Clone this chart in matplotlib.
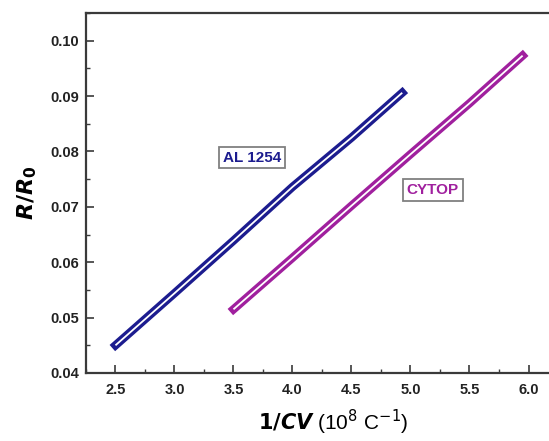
import numpy as np
from matplotlib import pyplot as plt
from matplotlib.ticker import MultipleLocator

plt.rcParams['font.family'] = ['Liberation Sans', 'DejaVu Sans']

# AL 1254 curve
al_x = [2.5, 3.0, 3.5, 4.0, 4.5, 4.93]
al_y = [0.0450, 0.0544, 0.0639, 0.0736, 0.0825, 0.0906]

# CYTOP curve
cy_x = [3.5, 4.0, 4.5, 5.0, 5.5, 5.95]
cy_y = [0.0515, 0.0608, 0.0702, 0.0795, 0.0887, 0.0973]

blue = "#1c1c8f"
purple = "#a0209e"

fig = plt.figure(figsize=(5.49, 4.41), dpi=100)
ax = fig.add_axes([0.1566, 0.1542, 0.8598, 0.8163])

# hollow looking lines: thick coloured stroke, thin white core
for xs, ys, c in [(al_x, al_y, blue), (cy_x, cy_y, purple)]:
    ax.plot(xs, ys, color=c, lw=6, solid_capstyle='projecting', solid_joinstyle='round')
    ax.plot(xs, ys, color="white", lw=1.3, solid_capstyle='butt', solid_joinstyle='round')

box = dict(boxstyle="square,pad=0.25", fc="white", ec="#808080", lw=1.3)
ax.text(3.66, 0.0789, "AL 1254", color=blue, fontsize=11, fontweight='bold',
        ha='center', va='center', bbox=box)
ax.text(5.19, 0.0730, "CYTOP", color=purple, fontsize=11, fontweight='bold',
        ha='center', va='center', bbox=box)

ax.set_xlim(2.25, 6.25)
ax.set_ylim(0.04, 0.105)
ax.xaxis.set_minor_locator(MultipleLocator(0.25))
ax.yaxis.set_minor_locator(MultipleLocator(0.005))
ax.set_xticks(np.arange(2.5, 6.01, 0.5))
ax.set_xticklabels(["%.1f" % v for v in np.arange(2.5, 6.01, 0.5)])
ax.set_yticks(np.arange(0.04, 0.1001, 0.01))
ax.set_yticklabels(["%.2f" % v for v in np.arange(0.04, 0.1001, 0.01)])

for s in ax.spines.values():
    s.set_linewidth(1.6)
    s.set_color("#3a3a3a")

ax.tick_params(which='major', direction='in', length=6, width=1.2, color="#3a3a3a",
               labelsize=10.5)
ax.tick_params(which='minor', direction='in', length=3, width=1.0, color="#3a3a3a")
ax.tick_params(axis='x', pad=7)
ax.tick_params(axis='y', pad=5)
for lab in ax.get_xticklabels() + ax.get_yticklabels():
    lab.set_fontweight('bold')
    lab.set_color("#222222")

ax.set_xlabel(r"$\mathbf{1/}\boldsymbol{CV}$ (10$^{8}$ C$^{-1}$)", fontsize=15)
ax.xaxis.set_label_coords(0.523, -0.098)
ax.set_ylabel(r"$\boldsymbol{R/R}_{\mathbf{0}}$", fontsize=16, labelpad=8)

fig.savefig("out.png", dpi=100)
